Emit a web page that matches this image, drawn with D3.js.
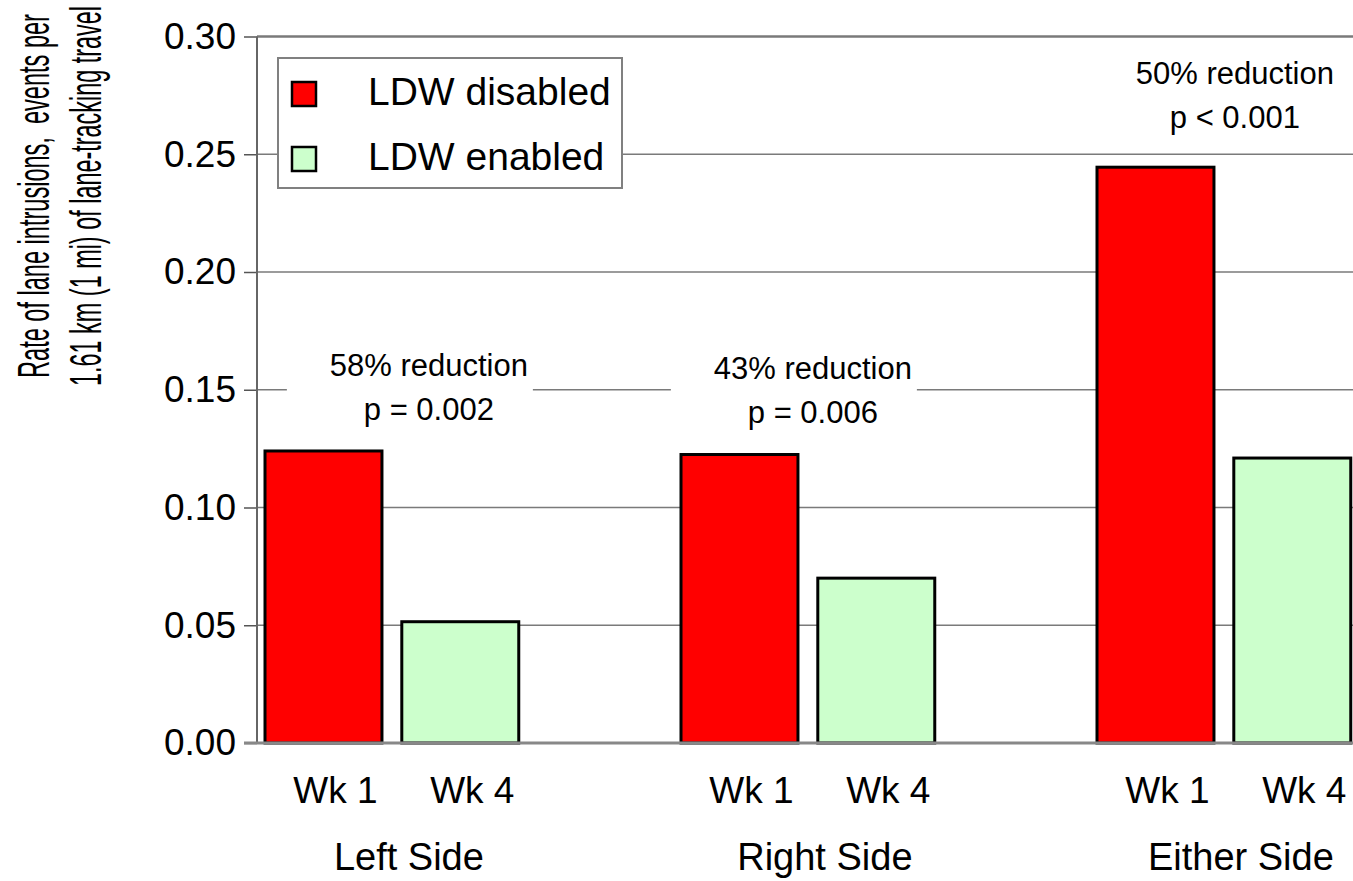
<!DOCTYPE html>
<html>
<head>
<meta charset="utf-8">
<script src="https://cdn.jsdelivr.net/npm/d3@7"></script>
<style>
  body { margin: 0; background: #fff; }
  svg { display: block; font-family: "Liberation Sans", Arial, sans-serif; }
</style>
</head>
<body>
<div id="chart"></div>
<script>
// data
const groups = ["Left Side", "Right Side", "Either Side"];
const weeks = ["Wk 1", "Wk 4"];
const seriesNames = ["LDW disabled", "LDW enabled"];
const wk1Values = [0.124, 0.1225, 0.2445];
const wk4Values = [0.0515, 0.070, 0.121];
const reductions = ["58% reduction", "43% reduction", "50% reduction"];
const pValues = ["p = 0.002", "p = 0.006", "p < 0.001"];
const yTicks = [0, 0.05, 0.10, 0.15, 0.20, 0.25, 0.30];

const width = 1353, height = 881;
const colors = ["#ff0000", "#ccffcc"];

const data = groups.map((g, i) => ({
    group: g,
    values: [
        { week: weeks[0], value: wk1Values[i], s: 0 },
        { week: weeks[1], value: wk4Values[i], s: 1 }
    ]
}));

const svg = d3.select("#chart").append("svg")
    .attr("width", width)
    .attr("height", height);

const y = d3.scaleLinear().domain([0, 0.30]).range([743, 36.5]);

const x0 = d3.scaleBand()
    .domain(groups)
    .range([265, 265 + 416 * 2.61])
    .paddingInner(0.39)
    .paddingOuter(0);

const x1 = d3.scaleBand()
    .domain(weeks)
    .range([0, x0.bandwidth()])
    .paddingInner(0.145);

// gridlines
svg.append("g")
    .selectAll("line")
    .data(yTicks.filter(d => d > 0))
    .enter().append("line")
    .attr("x1", 257).attr("x2", width)
    .attr("y1", d => y(d)).attr("y2", d => y(d))
    .attr("stroke", "#7a7a7a")
    .attr("stroke-width", d => d === 0.30 ? 2.5 : 1.5);

// annotations (white boxes hide gridlines)
const annotY = [0.1557, 0.1545, 0.2797];
const annotDx = [37, 5, 11];
const ann = svg.append("g").selectAll("g")
    .data(groups)
    .enter().append("g")
    .attr("transform", (d, i) => `translate(${x0(d) + x0.bandwidth() / 2 + annotDx[i]},${y(annotY[i])})`);

ann.append("rect")
    .attr("x", -142).attr("y", -32)
    .attr("width", 246).attr("height", 90)
    .attr("fill", "#fff");

ann.append("text")
    .attr("text-anchor", "middle")
    .attr("font-size", 31)
    .text((d, i) => reductions[i]);

ann.append("text")
    .attr("text-anchor", "middle")
    .attr("y", 44)
    .attr("font-size", 31)
    .text((d, i) => pValues[i]);

// bars
const grp = svg.append("g").selectAll("g")
    .data(data)
    .enter().append("g")
    .attr("transform", d => `translate(${x0(d.group)},0)`);

grp.selectAll("rect")
    .data(d => d.values)
    .enter().append("rect")
    .attr("x", d => x1(d.week))
    .attr("y", d => y(d.value))
    .attr("width", x1.bandwidth())
    .attr("height", d => y(0) - y(d.value))
    .attr("fill", d => colors[d.s])
    .attr("stroke", "#000")
    .attr("stroke-width", 3);

// week labels
grp.selectAll("text")
    .data(d => d.values)
    .enter().append("text")
    .attr("x", d => x1(d.week) + x1.bandwidth() / 2 + 12)
    .attr("y", 803)
    .attr("text-anchor", "middle")
    .attr("font-size", 37)
    .text(d => d.week);

// group labels
svg.append("g").selectAll("text")
    .data(groups)
    .enter().append("text")
    .attr("x", d => x0(d) + x0.bandwidth() / 2 + 17)
    .attr("y", 870)
    .attr("text-anchor", "middle")
    .attr("font-size", 38)
    .text(d => d);

// y axis
const yAxis = svg.append("g")
    .attr("transform", "translate(257,0)")
    .call(d3.axisLeft(y).tickValues(yTicks).tickFormat(d3.format(".2f")).tickSize(13).tickPadding(8));
yAxis.select(".domain").remove();
yAxis.selectAll(".tick line").attr("stroke", "#555").attr("stroke-width", 1.5);
yAxis.selectAll(".tick text")
    .attr("font-size", 37)
    .attr("font-family", "Liberation Sans, Arial, sans-serif")
    .attr("fill", "#000");

svg.append("line")
    .attr("x1", 257).attr("x2", 257)
    .attr("y1", y(0.30)).attr("y2", y(0))
    .attr("stroke", "#666").attr("stroke-width", 2);

svg.append("line")
    .attr("x1", 244).attr("x2", width)
    .attr("y1", y(0)).attr("y2", y(0))
    .attr("stroke", "#888").attr("stroke-width", 3);

// legend
const legend = svg.append("g");
legend.append("rect")
    .attr("x", 278).attr("y", 58)
    .attr("width", 344).attr("height", 130)
    .attr("fill", "#fff")
    .attr("stroke", "#808080")
    .attr("stroke-width", 2);

const li = legend.selectAll("g")
    .data(seriesNames)
    .enter().append("g")
    .attr("transform", (d, i) => `translate(292,${82 + i * 65})`);

li.append("rect")
    .attr("width", 24).attr("height", 24)
    .attr("fill", (d, i) => colors[i])
    .attr("stroke", "#000")
    .attr("stroke-width", 2.5);

li.append("text")
    .attr("x", 76)
    .attr("y", 23)
    .attr("font-size", 39)
    .text(d => d);

// y axis title, two lines, condensed to fit the reference length
const yTitle = ["Rate of lane intrusions,  events per", "1.61 km (1 mi) of lane-tracking travel"];
const titleLen = [364, 380];
svg.append("g").selectAll("text")
    .data(yTitle)
    .enter().append("text")
    .attr("text-anchor", "middle")
    .attr("font-size", 44)
    .style("white-space", "pre")
    .text(d => d)
    .each(function (d, i) {
        const len = this.getComputedTextLength();
        d3.select(this).attr("transform",
            `translate(${49 + i * 52},196) rotate(-90) scale(${titleLen[i] / len},1)`);
    });
</script>
</body>
</html>
